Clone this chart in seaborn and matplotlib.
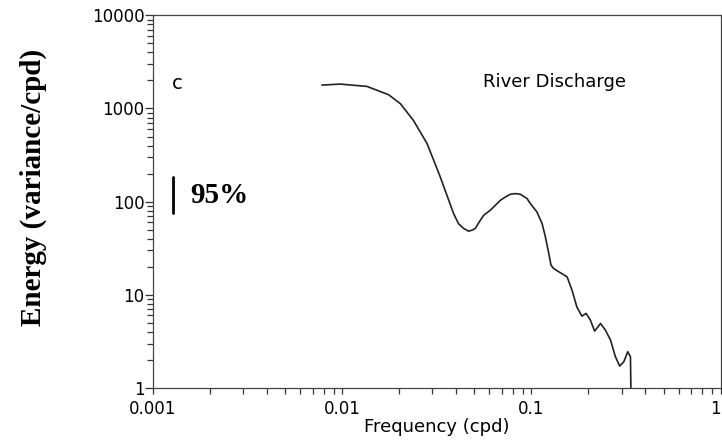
import matplotlib
matplotlib.use("Agg")
import matplotlib.pyplot as plt
import matplotlib.ticker as mticker
import seaborn as sns
import pandas as pd

freq = [0.00781, 0.00975, 0.01352, 0.01758, 0.0203, 0.0238, 0.0281, 0.0330, 0.0388,
        0.0412, 0.0439, 0.0466, 0.0485, 0.0505, 0.0537, 0.0560, 0.0607, 0.0686,
        0.0728, 0.0774, 0.0822, 0.0875, 0.0948, 0.0989, 0.107, 0.114, 0.1186,
        0.1236, 0.127, 0.131, 0.1394, 0.1545, 0.164, 0.174, 0.185, 0.1945, 0.205,
        0.216, 0.232, 0.246, 0.262, 0.278, 0.293, 0.308, 0.323, 0.334, 0.336]
energy = [1782, 1827, 1725, 1406, 1126, 745, 420, 184, 74.5,
          58, 51.5, 48.2, 49.4, 51.5, 63, 71.5, 80.9, 103.5,
          112, 120, 122, 120, 108, 95, 77.6, 58, 41.9,
          27.8, 20.8, 19.2, 17.7, 15.6, 11.2, 7.4, 5.9, 6.32, 5.36,
          4.08, 4.93, 4.19, 3.27, 2.17, 1.72, 1.91, 2.45, 2.17, 0.9]

xticks = [0.001, 0.01, 0.1, 1]
xticklabels = ["0.001", "0.01", "0.1", "1"]
yticks = [1, 10, 100, 1000, 10000]
yticklabels = ["1", "10", "100", "1000", "10000"]

ci_x = 0.00128
ci_y = [75, 182]

sns.set_theme(style="white")
plt.rcParams['font.family'] = ['DejaVu Sans']
plt.rcParams['text.color'] = 'black'
plt.rcParams['axes.labelcolor'] = 'black'
plt.rcParams['xtick.color'] = 'black'
plt.rcParams['ytick.color'] = 'black'

fig = plt.figure(figsize=(7.22, 4.41), dpi=100)
ax = fig.add_axes([0.2119, 0.1202, 0.7861, 0.8451])

df = pd.DataFrame({"Frequency": freq, "Energy": energy})
sns.lineplot(data=df, x="Frequency", y="Energy", ax=ax, color="#222222",
             linewidth=1.2, sort=False, estimator=None)

ax.set_xscale("log")
ax.set_yscale("log")
ax.set_xlim(0.001, 1)
ax.set_ylim(1, 10000)

ax.set_xticks(xticks)
ax.set_xticklabels(xticklabels, fontsize=12)
ax.get_xticklabels()[-1].set_horizontalalignment("right")
ax.set_yticks(yticks)
ax.set_yticklabels(yticklabels, fontsize=12)
ax.xaxis.set_minor_locator(mticker.LogLocator(base=10, subs=range(2, 10)))
ax.yaxis.set_minor_locator(mticker.LogLocator(base=10, subs=range(2, 10)))
ax.xaxis.set_minor_formatter(mticker.NullFormatter())
ax.yaxis.set_minor_formatter(mticker.NullFormatter())
ax.tick_params(axis="both", which="both", direction="out", color="#333333",
               width=0.9, bottom=True, left=True, top=False, right=False)
ax.tick_params(axis="x", which="major", length=4, pad=4.5)
ax.tick_params(axis="x", which="minor", length=4)
ax.tick_params(axis="y", which="major", length=6, pad=0)
ax.tick_params(axis="y", which="minor", length=4)

for sp in ax.spines.values():
    sp.set_visible(True)
    sp.set_color("#444444")
    sp.set_linewidth(0.9)

ax.set_xlabel("Frequency (cpd)", fontsize=13, labelpad=0)
ax.set_ylabel("Energy (variance/cpd)", fontsize=21, fontweight="bold",
              family=["Liberation Serif"])
ax.yaxis.set_label_coords(-0.187, 0.539)

ax.text(0.00134, 1850, "c", fontsize=14, ha="center", va="center")
ax.text(0.1324, 1905, "River Discharge", fontsize=13, ha="center", va="center")
ax.plot([ci_x, ci_x], ci_y, color="black", linewidth=2)
ax.text(0.00157, 117, "95%", fontsize=21, fontweight="bold",
        family=["Liberation Serif"], ha="left", va="center")

fig.savefig("out.png", dpi=100)
